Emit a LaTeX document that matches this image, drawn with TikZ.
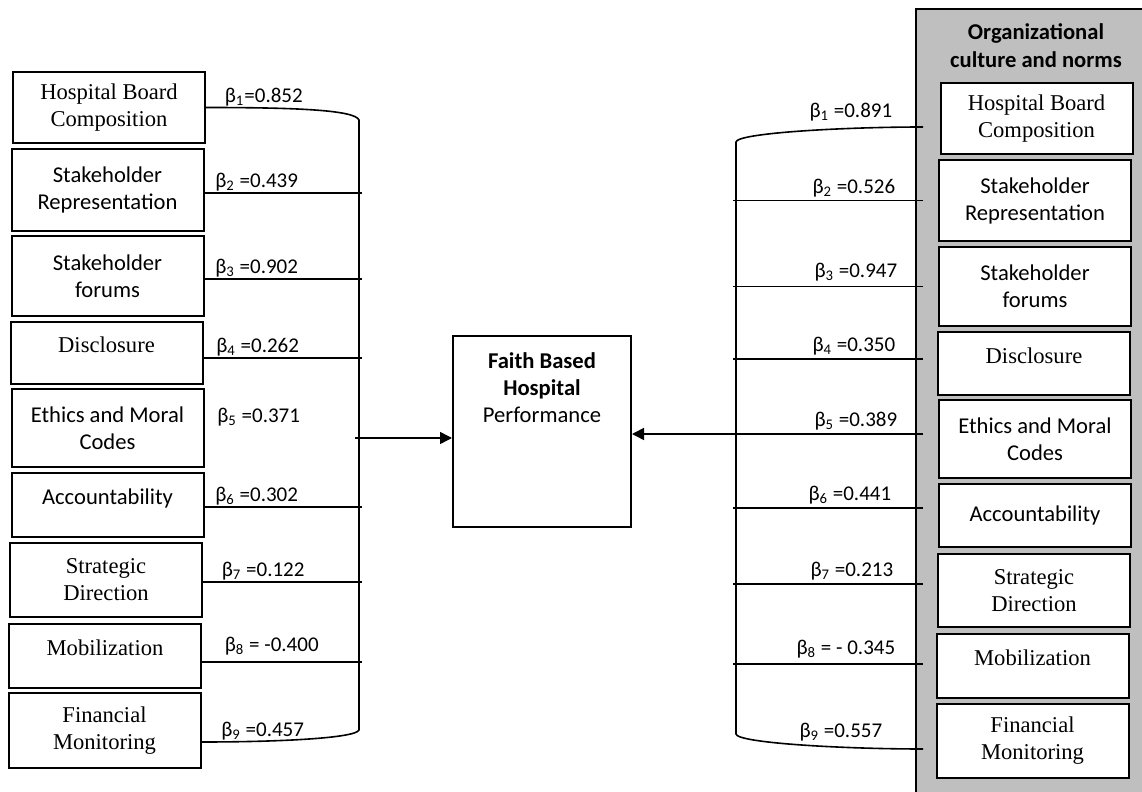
\documentclass[tikz,border=0pt]{standalone}
\usepackage{fontspec}
\setmainfont{Liberation Serif}
\newfontfamily\calibri{Carlito}
\usepackage{tikz}
\usetikzlibrary{positioning}
\usetikzlibrary{calc}
\usetikzlibrary{arrows.meta}

\begin{document}
\begin{tikzpicture}
    [x=0.5pt, y=-0.5pt, line width=0.8pt,
    every node/.style={font=\fontsize{11.3}{13.5}\selectfont},
    cal/.style={font=\calibri\fontsize{11.3}{13.5}\selectfont},
    varbox/.style={draw, line width=1pt, fill=white, minimum width=96pt, align=center, inner sep=2pt},
    upper/.style={text depth=8pt},
    coef/.style={font=\calibri\fontsize{10.5}{12}\selectfont, inner sep=0.5pt},
    tip/.style={-{Triangle[length=6pt, width=6pt]}}]

    \useasboundingbox (0,0) rectangle (1142,792);

    % Grey panel on the right
    \node[draw, line width=1pt, fill=black!25, anchor=north west, minimum width=120pt, minimum height=396pt] (org) at (915,8) {};
    \node[font=\calibri\bfseries\fontsize{11.3}{14}\selectfont, align=center] (orgtitle) at (1036,46) {Organizational\\culture and norms};

    % Left boxes
    \node[varbox, minimum height=35.5pt] (l1) at (109,107.5) {Hospital Board\\Composition};
    \node[varbox, cal, minimum height=41pt] (l2) at (107.5,190) {Stakeholder\\Representation};
    \node[varbox, cal, minimum height=40pt] (l3) at (107.5,276) {Stakeholder\\forums};
    \node[varbox, upper, minimum height=31pt] (l4) at (106.5,353) {Disclosure};
    \node[varbox, cal, minimum height=39pt] (l5) at (107.5,428) {Ethics and Moral\\Codes};
    \node[varbox, cal, upper, minimum height=32pt] (l6) at (107.5,505) {Accountability};
    \node[varbox, minimum height=37pt] (l7) at (106,580) {Strategic\\Direction};
    \node[varbox, upper, minimum height=32pt] (l8) at (105,656) {Mobilization};
    \node[varbox, minimum height=37.5pt] (l9) at (104.5,730.5) {Financial\\Monitoring};

    % Right boxes
    \node[varbox, minimum height=35.5pt] (r1) at (1036.5,118.5) {Hospital Board\\Composition};
    \node[varbox, cal, minimum height=40.5pt] (r2) at (1035,200.5) {Stakeholder\\Representation};
    \node[varbox, cal, minimum height=39.5pt] (r3) at (1035,286.5) {Stakeholder\\forums};
    \node[varbox, upper, minimum height=31.5pt] (r4) at (1034,363.5) {Disclosure};
    \node[varbox, cal, minimum height=39pt] (r5) at (1035,439) {Ethics and Moral\\Codes};
    \node[varbox, cal, minimum height=31.5pt] (r6) at (1035,515.5) {Accountability};
    \node[varbox, minimum height=36.5pt] (r7) at (1034,590.5) {Strategic\\Direction};
    \node[varbox, upper, minimum height=32pt] (r8) at (1032.5,666) {Mobilization};
    \node[varbox, minimum height=37pt] (r9) at (1032.5,741) {Financial\\Monitoring};

    % Dependent variable
    \node[draw, line width=1pt, minimum width=89pt, minimum height=95.5pt] (perf) at (542,431.5) {};
    \node[cal, align=center, below=5pt of perf.north] (perftext) {\textbf{Faith Based}\\\textbf{Hospital}\\Performance};

    % Left bus
    \coordinate (lbus) at (362,0);
    \coordinate (ltop) at (359,120);
    \coordinate (lbot) at (359,730);
    \coordinate (lmid) at (355,438);
    \coordinate (l9end) at ([yshift=-5.75pt]l9.east);

    \draw (l1.east) .. controls +(90,0) and +(-4,-10) .. (ltop) -- (lbot)
        .. controls +(-3,8) and +(80,0) .. (l9end);
    \node[coef, anchor=south west] (b1l) at ([xshift=8.5pt]l1.east) {β\textsubscript{1}=0.852};
    \draw ([yshift=-1.5pt]l2.east) -- ([yshift=-1.5pt]l2.east -| lbus)
        node[coef, pos=0, anchor=south west, xshift=4.5pt] (b2l) {β\textsubscript{2} =0.439};
    \draw ([yshift=-1.5pt]l3.east) -- ([yshift=-1.5pt]l3.east -| lbus)
        node[coef, pos=0, anchor=south west, xshift=4.5pt] (b3l) {β\textsubscript{3} =0.902};
    \draw ([yshift=-2.5pt]l4.east) -- ([yshift=-2.5pt]l4.east -| lbus)
        node[coef, pos=0, anchor=south west, xshift=5.5pt] (b4l) {β\textsubscript{4} =0.262};
    \node[coef, anchor=south west] (b5l) at ([xshift=5.5pt]l5.east) {β\textsubscript{5} =0.371};
    \draw ([yshift=-1pt]l6.east) -- ([yshift=-1pt]l6.east -| lbus)
        node[coef, pos=0, anchor=south west, xshift=4.5pt] (b6l) {β\textsubscript{6} =0.302};
    \draw ([yshift=-1pt]l7.east) -- ([yshift=-1pt]l7.east -| lbus)
        node[coef, pos=0, anchor=south west, xshift=8.5pt] (b7l) {β\textsubscript{7} =0.122};
    \draw ([yshift=-3pt]l8.east) -- ([yshift=-3pt]l8.east -| lbus)
        node[coef, pos=0, anchor=south west, xshift=10.5pt, yshift=2.5pt] (b8l) {β\textsubscript{8} = -0.400};
    \node[coef, anchor=south west] (b9l) at ([xshift=9pt]l9end) {β\textsubscript{9} =0.457};

    \draw[tip] (lmid) -- (lmid -| perf.west);

    % Right bus
    \coordinate (rbus) at (733,0);
    \coordinate (rend) at (923,0);
    \coordinate (rtop) at (736,142);
    \coordinate (rbot) at (736,734);
    \coordinate (r1end) at ([yshift=-4.25pt]r1.west -| rend);
    \coordinate (r9end) at ([yshift=-4pt]r9.west -| rend);

    \draw (r1end) .. controls +(-80,0) and +(1,-9) .. (rtop) -- (rbot)
        .. controls +(1,9) and +(-80,0) .. (r9end);
    \node[coef, anchor=south east] (b1r) at ([xshift=-14.5pt, yshift=2pt]r1end) {β\textsubscript{1} =0.891};
    \draw (r2.west -| rend) -- (r2.west -| rbus)
        node[coef, pos=0, anchor=south east, xshift=-13pt, yshift=1pt] (b2r) {β\textsubscript{2} =0.526};
    \draw (r3.west -| rend) -- (r3.west -| rbus)
        node[coef, pos=0, anchor=south east, xshift=-12pt, yshift=2pt] (b3r) {β\textsubscript{3} =0.947};
    \draw ([yshift=2.25pt]r4.west -| rend) -- ([yshift=2.25pt]r4.west -| rbus)
        node[coef, pos=0, anchor=south east, xshift=-13pt, yshift=1pt] (b4r) {β\textsubscript{4} =0.350};
    \draw[tip] ([yshift=2.5pt]r5.west -| rend) -- ([yshift=2.5pt]r5.west -| perf.east)
        node[coef, pos=0, anchor=south east, xshift=-12pt, yshift=1pt] (b5r) {β\textsubscript{5} =0.389};
    \draw ([yshift=3.75pt]r6.west -| rend) -- ([yshift=3.75pt]r6.west -| rbus)
        node[coef, pos=0, anchor=south east, xshift=-15pt, yshift=1pt] (b6r) {β\textsubscript{6} =0.441};
    \draw ([yshift=3.25pt]r7.west -| rend) -- ([yshift=3.25pt]r7.west -| rbus)
        node[coef, pos=0, anchor=south east, xshift=-14pt, yshift=1pt] (b7r) {β\textsubscript{7} =0.213};
    \draw ([yshift=1pt]r8.west -| rend) -- ([yshift=1pt]r8.west -| rbus)
        node[coef, pos=0, anchor=south east, xshift=-13pt, yshift=2pt] (b8r) {β\textsubscript{8} = - 0.345};
    \node[coef, anchor=south east] (b9r) at ([xshift=-19.5pt, yshift=3pt]r9end) {β\textsubscript{9} =0.557};

\end{tikzpicture}
\end{document}
